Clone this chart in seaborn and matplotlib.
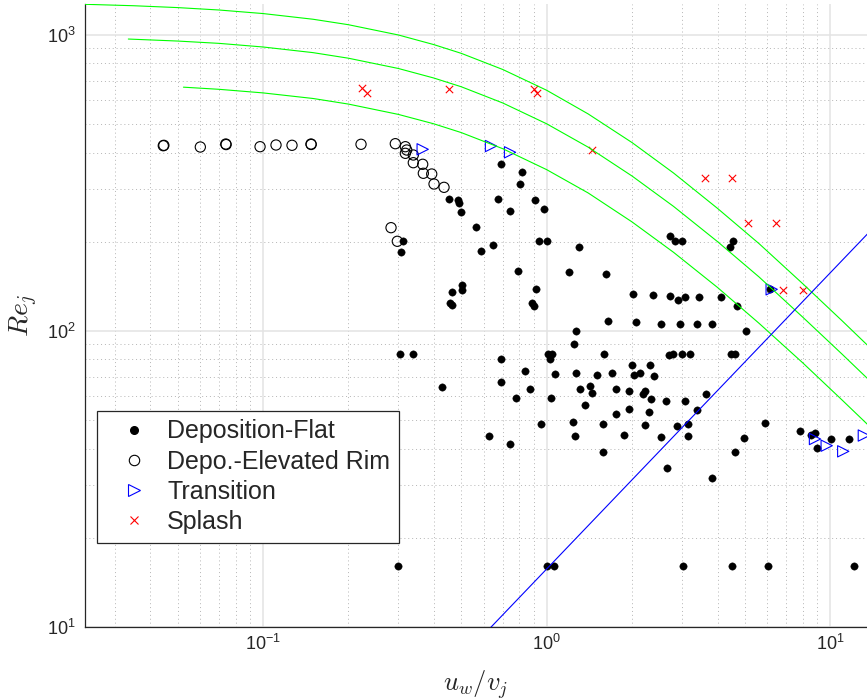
import matplotlib
matplotlib.use("Agg")
import matplotlib.pyplot as plt
import seaborn as sns
from matplotlib.lines import Line2D
from matplotlib.ticker import LogLocator, NullFormatter

# Deposition-Flat (filled black dots)
flat_x = [0.452, 0.486, 0.492, 0.499, 0.563, 0.690, 0.820, 0.808, 0.675, 0.744,
          0.910, 0.981, 0.312, 0.307, 0.648, 0.588, 0.937, 1.002, 1.297, 0.794,
          1.203, 1.623, 0.465, 0.504, 0.504, 0.456, 0.464, 0.915, 0.886, 0.902,
          1.268, 2.720, 2.833, 3.006, 4.525, 4.427, 2.010, 2.364, 2.720, 2.903,
          3.073, 3.434, 4.115, 4.687, 6.125, 1.649, 2.069, 2.534, 2.957, 3.387,
          3.815, 5.042, 1.251, 0.304, 0.339, 1.013, 1.041, 1.027, 0.689, 1.588,
          2.692, 2.794, 3.006, 3.201, 4.474, 4.611, 0.839, 1.072, 1.265, 1.508,
          1.699, 1.998, 2.312, 2.031, 2.132, 2.389, 0.428, 0.689, 0.871, 1.310,
          1.421, 1.444, 1.751, 1.945, 2.227, 2.190, 2.337, 2.639, 3.065, 3.635,
          0.779, 1.033, 1.365, 1.755, 1.958, 2.299, 3.395, 0.957, 1.238, 1.583,
          2.227, 2.872, 3.157, 5.905, 0.626, 0.744, 1.255, 1.865, 2.528, 3.136,
          4.961, 7.812, 8.523, 8.825, 10.01, 11.66, 8.948, 4.603, 1.575, 2.661,
          3.840, 0.300, 1.000, 1.061, 3.016, 4.511, 6.050, 12.09]
flat_y = [278.6, 275.8, 271.1, 252.7, 224.1, 365.0, 344.5, 312.4, 279.2, 253.7,
          277.5, 257.1, 200.5, 184.9, 194.3, 185.9, 201.7, 201.7, 192.2, 158.8,
          157.3, 155.8, 135.5, 142.3, 136.9, 124.3, 122.1, 138.0, 124.0, 121.4,
          99.4, 208.9, 200.9, 200.5, 201.4, 192.2, 132.7, 131.7, 131.0, 126.6,
          130.3, 129.7, 129.7, 120.9, 138.0, 108.1, 107.0, 105.3, 105.3, 105.1,
          105.1, 100.0, 90.2, 83.2, 83.2, 83.4, 83.4, 80.1, 80.4, 83.6,
          82.8, 83.2, 83.4, 83.4, 83.2, 83.2, 72.9, 71.2, 72.1, 71.0,
          72.0, 76.6, 76.8, 70.6, 71.8, 70.3, 64.5, 67.1, 63.5, 63.4,
          64.8, 61.4, 63.4, 62.7, 62.7, 61.0, 58.8, 58.0, 58.0, 61.1,
          59.4, 59.1, 56.2, 52.3, 54.6, 53.1, 54.0, 48.3, 49.3, 48.3,
          48.0, 47.8, 48.3, 48.7, 44.2, 41.4, 44.2, 44.4, 43.85, 44.1,
          43.5, 45.8, 44.4, 45.2, 43.1, 43.06, 40.1, 39.0, 38.8, 34.4,
          31.8, 16.07, 16.07, 16.07, 16.07, 16.07, 16.07, 16.07]

# Depo.-Elevated Rim (open circles)
rim_x = [0.0445, 0.0447, 0.0601, 0.0739, 0.0741, 0.0976, 0.1111, 0.1265, 0.1476,
         0.1478, 0.2215, 0.2926, 0.3174, 0.3210, 0.3174, 0.3386, 0.3386, 0.3654,
         0.3673, 0.3932, 0.4006, 0.4345, 0.2826, 0.2974]
rim_y = [421.7, 423.0, 417.5, 427.3, 425.5, 418.5, 424.1, 423.1, 427.3,
         425.8, 426.4, 428.4, 418.5, 407.9, 397.5, 392.3, 369.5, 365.0,
         340.3, 338.4, 313.1, 305.1, 222.9, 200.5]

# Transition (open right triangles)
trans_x = [0.3654, 0.6362, 0.7425, 6.209, 8.825, 9.705, 11.10, 13.12]
trans_y = [410.1, 420.7, 400.6, 138.0, 43.06, 40.88, 39.13, 44.25]

# Splash (crosses)
splash_x = [0.2239, 0.2332, 0.4524, 0.9020, 0.9266, 1.444, 3.614, 4.511,
            5.135, 6.414, 6.79, 8.025]
splash_y = [659.0, 633.9, 655.6, 654.0, 633.9, 408.8, 327.3, 327.3,
            231.1, 231.1, 137.3, 137.3]

# green boundary curves
top_x = [0.02357, 0.035, 0.05, 0.07, 0.1, 0.15, 0.2, 0.3, 0.4, 0.5, 0.7,
         1.0, 1.4, 2.0, 2.8, 4.0, 5.6, 8.0, 11.0, 13.5]
top_y = [1267, 1253, 1235, 1212, 1179, 1128, 1081, 998, 926, 865, 763,
         649, 540, 432, 341, 259, 197, 144, 108, 89.4]
mid_x = [0.0335, 0.05, 0.07, 0.1, 0.15, 0.2, 0.3, 0.4, 0.5, 0.7,
         1.0, 1.4, 2.0, 2.8, 4.0, 5.6, 8.0, 11.0, 13.5]
mid_y = [967, 952, 935, 909, 870, 833, 769, 714, 667, 588,
         500, 417, 333, 263, 200, 152, 111, 83.3, 69.0]
low_x = [0.0524, 0.07, 0.1, 0.15, 0.2, 0.3, 0.4, 0.5, 0.7,
         1.0, 1.4, 2.0, 2.8, 4.0, 5.6, 8.0, 11.0, 13.5]
low_y = [665, 654, 636, 609, 583, 538, 500, 467, 412,
         350, 292, 233, 184, 140, 106, 77.8, 58.3, 48.3]

# blue line
blue_x = [0.6, 14.0]
blue_y = [9.4, 220]

sns.set_style("white")
plt.rcParams["font.family"] = ["Liberation Sans", "DejaVu Sans"]
plt.rcParams["mathtext.fontset"] = "cm"
plt.rcParams["axes.unicode_minus"] = False

fig = plt.figure(figsize=(8.67, 7.0), dpi=100)
ax = fig.add_axes([0.09804, 0.10471, 0.90196, 0.88914])
ax.set_xscale("log")
ax.set_yscale("log")

sns.scatterplot(x=flat_x, y=flat_y, ax=ax, marker="o", s=28, color="black",
                edgecolor="black", linewidth=0.3, zorder=3)
sns.scatterplot(x=rim_x, y=rim_y, ax=ax, marker="o", s=54, color="black",
                facecolor="none", edgecolor="black", linewidth=0.8, zorder=3)
sns.scatterplot(x=trans_x, y=trans_y, ax=ax, marker=">", s=66, color="blue",
                facecolor="none", edgecolor="blue", linewidth=0.8, zorder=3)
sns.scatterplot(x=splash_x, y=splash_y, ax=ax, marker="x", s=28, color="red",
                linewidth=0.8, zorder=3)

for cx, cy in [(top_x, top_y), (mid_x, mid_y), (low_x, low_y)]:
    ax.plot(cx, cy, color="#00ff00", linewidth=0.8, zorder=4)
ax.plot(blue_x, blue_y, color="#0000ff", linewidth=0.8, zorder=4)

ax.set_xlim(0.02357, 13.46)
ax.set_ylim(10, top_y[0])

ax.xaxis.set_major_locator(LogLocator(base=10))
ax.yaxis.set_major_locator(LogLocator(base=10))
ax.xaxis.set_minor_locator(LogLocator(base=10, subs=range(2, 10)))
ax.yaxis.set_minor_locator(LogLocator(base=10, subs=range(2, 10)))
ax.xaxis.set_minor_formatter(NullFormatter())
ax.yaxis.set_minor_formatter(NullFormatter())

ax.grid(True, which="major", linestyle="-", color="#e3e3e3", linewidth=1.1, zorder=0)
ax.grid(True, which="minor", linestyle=(0, (1, 3)), color="#b5b5b5", linewidth=0.7, zorder=0)
ax.set_axisbelow(True)

for side in ["top", "right"]:
    ax.spines[side].set_visible(False)
for side in ["left", "bottom"]:
    ax.spines[side].set_color("#262626")
    ax.spines[side].set_linewidth(0.9)

ax.tick_params(which="both", direction="in", top=False, right=False,
               color="#262626", labelcolor="#262626", labelsize=13)
ax.tick_params(which="major", length=5.8, width=0.7)
ax.tick_params(which="minor", length=3.4, width=0.6)
ax.tick_params(axis="y", pad=6.5)
ax.tick_params(axis="x", pad=5)

ax.set_xlabel(r"$u_w/v_j$", fontsize=19)
ax.set_ylabel(r"$Re_j$", fontsize=20)
ax.xaxis.set_label_coords(0.5, -0.066)
ax.yaxis.set_label_coords(-0.058, 0.5)

handles = [
    Line2D([], [], linestyle="none", marker="o", markersize=5.5,
           markerfacecolor="black", markeredgecolor="black"),
    Line2D([], [], linestyle="none", marker="o", markersize=7.5,
           markerfacecolor="none", markeredgecolor="black", markeredgewidth=0.8),
    Line2D([], [], linestyle="none", marker=">", markersize=8,
           markerfacecolor="none", markeredgecolor="blue", markeredgewidth=0.8),
    Line2D([], [], linestyle="none", marker="x", markersize=5.5,
           markeredgecolor="red", markeredgewidth=0.8),
]
labels = ["Deposition-Flat", "Depo.-Elevated Rim", "Transition", "Splash"]
leg = ax.legend(handles, labels, loc="upper left", bbox_to_anchor=(0.01573, 0.347),
                borderaxespad=0, fontsize=18, frameon=True, fancybox=False,
                framealpha=1, edgecolor="#262626", borderpad=0.35,
                labelspacing=0.25, handlelength=2.2, handletextpad=0.24)
leg.get_frame().set_linewidth(0.9)

fig.savefig("out.png", dpi=100)
